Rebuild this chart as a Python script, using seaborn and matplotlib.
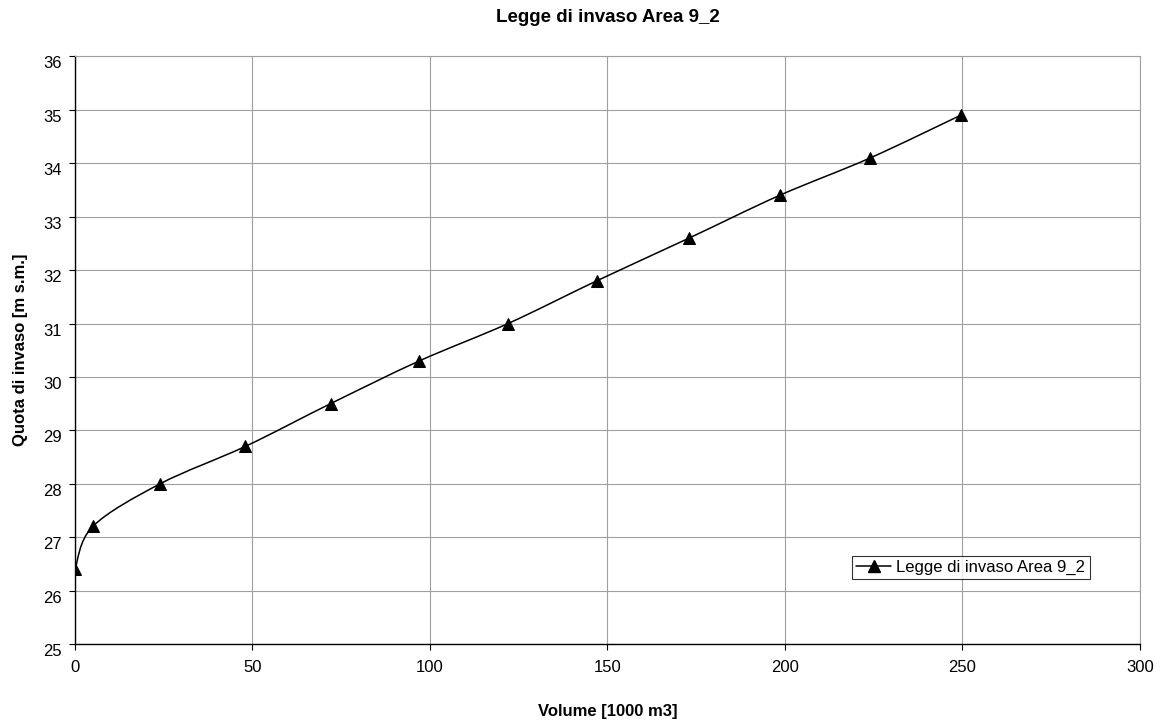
import numpy as np
import pandas as pd
import matplotlib
matplotlib.use("Agg")
import matplotlib.pyplot as plt
import matplotlib.transforms as mtransforms
from matplotlib.path import Path
from matplotlib.patches import PathPatch
from matplotlib.lines import Line2D
import seaborn as sns

# ── Data ──────────────────────────────────────────────────
volume = [0, 5, 24, 48, 72, 97, 122, 147, 173, 198.5, 224, 249.5]   # 1000 m3
quota  = [26.4, 27.2, 28.0, 28.7, 29.5, 30.3, 31.0, 31.8, 32.6, 33.4, 34.1, 34.9]
series_name = "Legge di invaso Area 9_2"

df = pd.DataFrame({"Volume": volume, "Quota": quota})

# ── Style ─────────────────────────────────────────────────
sns.set_style("white")
plt.rcParams.update({
    "font.family": ["Liberation Sans", "DejaVu Sans"],
    "text.color": "black",
    "axes.labelcolor": "black",
    "xtick.color": "black",
    "ytick.color": "black",
})

GRID = "#a0a0a0"

fig = plt.figure(figsize=(11.68, 7.24), dpi=100)
ax = fig.add_axes([0.0642, 0.1105, 0.9118, 0.8115])

# smoothed line (Excel-style bezier through the points)
pts = df[["Volume", "Quota"]].to_numpy(dtype=float)
verts = [tuple(pts[0])]
codes = [Path.MOVETO]
n = len(pts)
for i in range(n - 1):
    p0 = pts[i - 1] if i > 0 else pts[i]
    p1 = pts[i]
    p2 = pts[i + 1]
    p3 = pts[i + 2] if i + 2 < n else pts[i + 1]
    c1 = p1 + (p2 - p0) / 6.0
    c2 = p2 - (p3 - p1) / 6.0
    verts += [tuple(c1), tuple(c2), tuple(p2)]
    codes += [Path.CURVE4] * 3
ax.add_patch(PathPatch(Path(verts, codes), facecolor="none",
                       edgecolor="black", linewidth=1.1, zorder=3))

# markers
sns.lineplot(data=df, x="Volume", y="Quota", ax=ax, linestyle="",
             marker="^", markersize=8, color="black",
             markeredgecolor="black", zorder=4)

ax.set_xlim(0, 300)
ax.set_ylim(25, 36)
ax.set_xticks(np.arange(0, 301, 50))
ax.set_yticks(np.arange(25, 37, 1))
ax.grid(True, color=GRID, linewidth=0.8)
ax.set_axisbelow(True)

for s in ["top", "right"]:
    ax.spines[s].set_color(GRID)
    ax.spines[s].set_linewidth(0.8)
for s in ["left", "bottom"]:
    ax.spines[s].set_color("black")
    ax.spines[s].set_linewidth(1.0)

ax.tick_params(axis="both", which="major", direction="out", length=4.3,
               width=0.8, color="black", labelcolor="black", labelsize=12,
               left=True, bottom=True)
ax.tick_params(axis="y", pad=5)
ax.tick_params(axis="x", pad=7)

# y tick labels sit a little below their ticks, as in the original
shift = mtransforms.ScaledTranslation(0, -0.06, fig.dpi_scale_trans)
for lab in ax.get_yticklabels():
    lab.set_transform(lab.get_transform() + shift)

ax.set_title("Legge di invaso Area 9_2", fontsize=13.5, fontweight="bold",
             color="black", pad=25)
ax.set_xlabel("Volume [1000 m3]", fontsize=12, fontweight="bold",
              labelpad=21)
ax.set_ylabel("Quota di invaso [m s.m.]", fontsize=12, fontweight="bold",
              labelpad=11)

handle = Line2D([0], [0], color="black", linewidth=1.1, marker="^",
                markersize=8)
leg = ax.legend([handle], [series_name], loc="center",
                bbox_to_anchor=(0.8413, 0.130), fontsize=12,
                frameon=True, fancybox=False, shadow=False,
                handlelength=2.1, borderpad=0.25, handletextpad=0.3)
leg.get_frame().set_edgecolor("black")
leg.get_frame().set_linewidth(0.8)
for t in leg.get_texts():
    t.set_color("black")

fig.savefig("out.png", dpi=100, facecolor="white")
